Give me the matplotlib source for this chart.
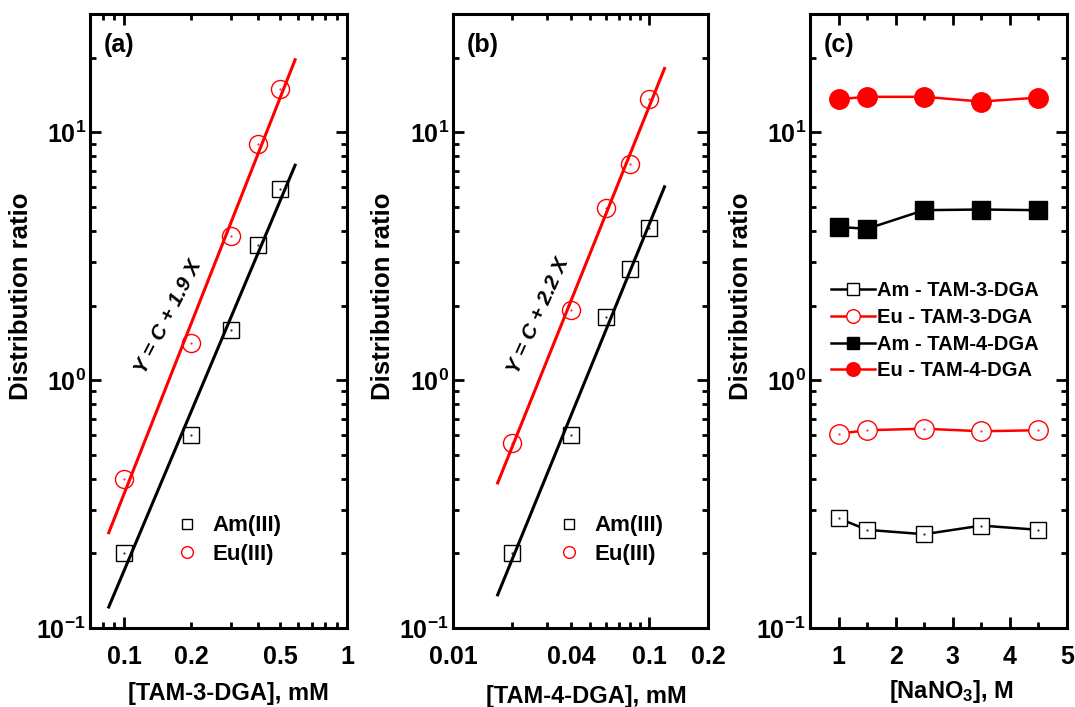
import matplotlib
matplotlib.use("Agg")
import matplotlib.pyplot as plt
import numpy as np
from matplotlib.ticker import FixedLocator, FuncFormatter, MultipleLocator, NullFormatter

plt.rcParams['font.family'] = ['Liberation Sans', 'DejaVu Sans']
plt.rcParams['font.weight'] = 'bold'
plt.rcParams['mathtext.fontset'] = 'custom'
plt.rcParams['mathtext.rm'] = 'Liberation Sans:bold'
plt.rcParams['mathtext.it'] = 'Liberation Sans:bold:italic'
plt.rcParams['mathtext.bf'] = 'Liberation Sans:bold'

# panel (a): TAM-3-DGA concentration dependence
conc_a = [0.1, 0.2, 0.3, 0.4, 0.5]
am_a = [0.20, 0.60, 1.60, 3.5, 5.9]
eu_a = [0.40, 1.41, 3.83, 9.0, 14.9]
fit_range_a = [0.085, 0.585]

# panel (b): TAM-4-DGA concentration dependence
conc_b = [0.02, 0.04, 0.06, 0.08, 0.1]
am_b = [0.20, 0.60, 1.80, 2.81, 4.11]
eu_b = [0.56, 1.91, 4.93, 7.47, 13.6]
fit_range_b = [0.0169, 0.12]

# panel (c): NaNO3 dependence
nano3 = [1, 1.5, 2.5, 3.5, 4.5]
am_tam3 = [0.277, 0.249, 0.239, 0.259, 0.249]
eu_tam3 = [0.608, 0.628, 0.637, 0.622, 0.628]
am_tam4 = [4.15, 4.08, 4.85, 4.88, 4.85]
eu_tam4 = [13.6, 13.9, 13.9, 13.3, 13.8]

RED = '#ff0000'


def log_fit(x, y, xr):
    p = np.polyfit(np.log10(x), np.log10(y), 1)
    xs = np.array(xr)
    return xs, 10 ** np.polyval(p, np.log10(xs))


def style_axis(ax, ylab_x):
    for s in ax.spines.values():
        s.set_linewidth(2.2)
    ax.tick_params(which='both', direction='in', top=True, right=True,
                   labelsize=18, width=2.0)
    ax.tick_params(axis='x', which='both', pad=12)
    ax.tick_params(axis='y', which='both', pad=3)
    ax.tick_params(which='major', length=8)
    ax.tick_params(which='minor', length=4.5)
    ax.set_yscale('log')
    ax.set_ylim(0.1, 30)
    ax.yaxis.set_major_locator(FixedLocator([0.1, 1, 10]))
    ax.yaxis.set_major_formatter(FuncFormatter(
        lambda v, p: r'$\mathregular{10^{%d}}$' % int(round(np.log10(v)))))
    ax.yaxis.set_minor_locator(FixedLocator(
        [m * 10.0 ** e for e in (-1, 0, 1) for m in range(2, 10)]))
    ax.yaxis.set_minor_formatter(NullFormatter())
    ax.set_ylabel('Distribution ratio', fontsize=18.5, fontweight='bold')
    ax.yaxis.set_label_coords(ylab_x, 0.54)


def log_x(ax, lo, hi, labels):
    ax.set_xscale('log')
    ax.set_xlim(lo, hi)
    ax.xaxis.set_major_locator(FixedLocator([0.01, 0.1, 1]))
    ax.xaxis.set_minor_locator(FixedLocator(
        [m * 10.0 ** e for e in (-2, -1, 0) for m in range(2, 10)]))
    fmt = FuncFormatter(lambda v, p: ('%g' % v) if any(np.isclose(v, labels)) else '')
    ax.xaxis.set_major_formatter(fmt)
    ax.xaxis.set_minor_formatter(fmt)


fig = plt.figure(figsize=(10.75, 7.07), dpi=100)
ax_a = fig.add_axes([0.0837, 0.1117, 0.239, 0.8685])
ax_b = fig.add_axes([0.4214, 0.1117, 0.2372, 0.8685])
ax_c = fig.add_axes([0.7535, 0.1117, 0.239, 0.8685])

hollow = dict(linestyle='none', markerfacecolor='none', markeredgewidth=1.0)
small_leg = dict(frameon=False, fontsize=16, markerscale=0.65, handlelength=1.0,
                 handletextpad=0.65, labelspacing=0.35, borderaxespad=0)

# (a)
style_axis(ax_a, -0.222)
log_x(ax_a, 0.07, 1.0, [0.1, 0.2, 0.5, 1])
xs, ys = log_fit(conc_a, eu_a, fit_range_a)
ax_a.plot(xs, ys, color=RED, lw=2.2)
xs, ys = log_fit(conc_a, am_a, fit_range_a)
ax_a.plot(xs, ys, color='black', lw=2.2)
ax_a.plot(conc_a, am_a, marker='s', ms=11, color='black', label='Am(III)', **hollow)
ax_a.plot(conc_a, eu_a, marker='o', ms=13, color=RED, label='Eu(III)', **hollow)
ax_a.plot(conc_a, am_a, '.', ms=1, color='black')
ax_a.plot(conc_a, eu_a, '.', ms=1, color=RED)
ax_a.set_xlabel('[TAM-3-DGA], mM', fontsize=17, fontweight='bold')
ax_a.xaxis.set_label_coords(0.537, -0.088)
ax_a.text(0.055, 0.95, '(a)', transform=ax_a.transAxes, fontsize=18,
          fontweight='bold', va='center')
ax_a.text(0.305, 0.506, 'Y = C + 1.9 X', transform=ax_a.transAxes, fontsize=15,
          fontstyle='italic', fontweight='bold', rotation=63, ha='center', va='center')
ax_a.legend(loc='center left', bbox_to_anchor=(0.299, 0.143), **small_leg)

# (b)
style_axis(ax_b, -0.227)
log_x(ax_b, 0.01, 0.2, [0.01, 0.04, 0.1, 0.2])
xs, ys = log_fit(conc_b, eu_b, fit_range_b)
ax_b.plot(xs, ys, color=RED, lw=2.2)
xs, ys = log_fit(conc_b, am_b, fit_range_b)
ax_b.plot(xs, ys, color='black', lw=2.2)
ax_b.plot(conc_b, am_b, marker='s', ms=11, color='black', label='Am(III)', **hollow)
ax_b.plot(conc_b, eu_b, marker='o', ms=13, color=RED, label='Eu(III)', **hollow)
ax_b.plot(conc_b, am_b, '.', ms=1, color='black')
ax_b.plot(conc_b, eu_b, '.', ms=1, color=RED)
ax_b.set_xlabel('[TAM-4-DGA], mM', fontsize=17, fontweight='bold')
ax_b.xaxis.set_label_coords(0.525, -0.092)
ax_b.text(0.055, 0.95, '(b)', transform=ax_b.transAxes, fontsize=18,
          fontweight='bold', va='center')
ax_b.text(0.335, 0.508, 'Y = C + 2.2 X', transform=ax_b.transAxes, fontsize=15,
          fontstyle='italic', fontweight='bold', rotation=66, ha='center', va='center')
ax_b.legend(loc='center left', bbox_to_anchor=(0.375, 0.143), **small_leg)

# (c)
style_axis(ax_c, -0.222)
ax_c.set_xlim(0.5, 5)
ax_c.xaxis.set_major_locator(MultipleLocator(1))
ax_c.xaxis.set_minor_locator(MultipleLocator(0.5))
ax_c.plot(nano3, am_tam3, color='black', lw=1.8, marker='s', ms=12,
          markerfacecolor='white', markeredgewidth=1.0, label='Am - TAM-3-DGA')
ax_c.plot(nano3, eu_tam3, color=RED, lw=1.8, marker='o', ms=14,
          markerfacecolor='white', markeredgewidth=1.0, label='Eu - TAM-3-DGA')
ax_c.plot(nano3, am_tam4, color='black', lw=1.8, marker='s', ms=13,
          label='Am - TAM-4-DGA')
ax_c.plot(nano3, eu_tam4, color=RED, lw=1.8, marker='o', ms=14,
          label='Eu - TAM-4-DGA')
ax_c.plot(nano3, am_tam3, '.', ms=1, color='black')
ax_c.plot(nano3, eu_tam3, '.', ms=1, color=RED)
ax_c.set_xlabel(r'[NaNO$_3$], M', fontsize=17, fontweight='bold')
ax_c.xaxis.set_label_coords(0.549, -0.081)
ax_c.text(0.055, 0.95, '(c)', transform=ax_c.transAxes, fontsize=18,
          fontweight='bold', va='center')
ax_c.legend(loc='center left', bbox_to_anchor=(0.05, 0.484), frameon=False,
            fontsize=14.5, markerscale=0.7, handlelength=2.2, handletextpad=0.1,
            labelspacing=0.38, borderaxespad=0)

fig.savefig('out.png', dpi=100)
